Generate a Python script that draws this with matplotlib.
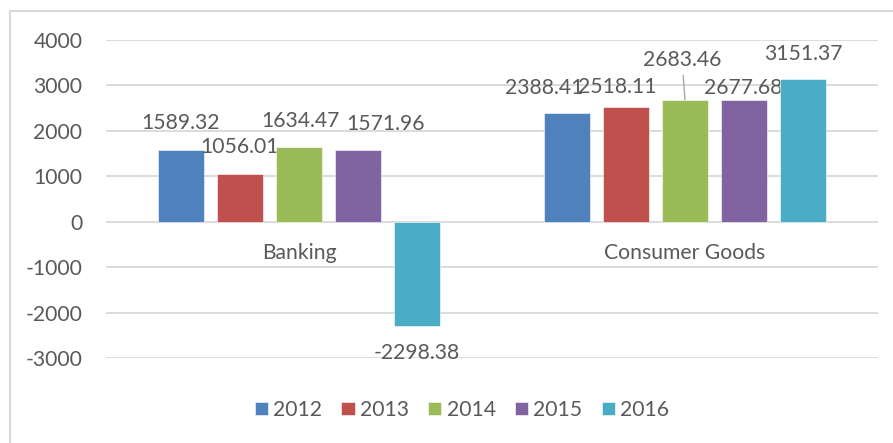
import numpy as np
import matplotlib.pyplot as plt
from matplotlib.lines import Line2D

# data
categories = ['Banking', 'Consumer Goods']
years = ['2012', '2013', '2014', '2015', '2016']
values = {
    '2012': [1589.32, 2388.41],
    '2013': [1056.01, 2518.11],
    '2014': [1634.47, 2683.46],
    '2015': [1571.96, 2677.68],
    '2016': [-2298.38, 3151.37],
}
colors = ['#4F81BD', '#C0504D', '#9BBB59', '#8064A2', '#4BACC6']

# label offsets in pixels (dx, dy), Excel-style manual placement
label_off = {
    '2012': [(0, 27), (-23, 25)],
    '2013': [(0, 27), (-9, 20)],
    '2014': [(1, 26), (-3, 40)],
    '2015': [(27, 26), (-1, 12)],
    '2016': [(0, -27), (0, 25)],
}

plt.rcParams['font.family'] = ['Lato', 'DejaVu Sans']
plt.rcParams['axes.unicode_minus'] = False
txt = '#595959'
fs = 15.2

fig = plt.figure(figsize=(8.93, 4.43), dpi=100)
ax = fig.add_axes([106/893, 1-358/443, (878-106)/893, (358-40)/443])

x = np.arange(len(categories))
step = 0.153
width = 0.119
for k, yr in enumerate(years):
    xs = x + (k-2)*step
    ax.bar(xs, values[yr], width, color=colors[k], edgecolor='white', linewidth=0.4, label=yr, zorder=3)
    for i, v in enumerate(values[yr]):
        dx, dy = label_off[yr][i]
        if yr == '2014' and i == 1:
            ax.annotate(f'{v:.2f}', (xs[i], v), xytext=(dx, dy), textcoords='offset pixels',
                        ha='center', va='center', fontsize=fs, color=txt,
                        arrowprops=dict(arrowstyle='-', color='#A6A6A6', lw=1, shrinkA=2, shrinkB=0))
        else:
            ax.annotate(f'{v:.2f}', (xs[i], v), xytext=(dx, dy), textcoords='offset pixels',
                        ha='center', va='center', fontsize=fs, color=txt)

# category labels next to the zero line
for i, c in enumerate(categories):
    ax.annotate(c, (x[i], 0), xytext=(0, -31), textcoords='offset pixels',
                ha='center', va='center', fontsize=fs, color=txt)

ax.set_xlim(-0.5, 1.5)
ax.set_ylim(-3000, 4000)
ax.set_yticks(np.arange(-3000, 4001, 1000))
ax.set_xticks([])
ax.tick_params(axis='y', length=0, pad=17, labelsize=fs, labelcolor=txt)
ax.grid(axis='y', color='#D9D9D9', linewidth=1.3, zorder=0)
ax.set_axisbelow(True)
for s in ax.spines.values():
    s.set_visible(False)

fig.legend(loc='center', bbox_to_anchor=(462/893, 1-410/443), ncol=5, frameon=False,
           fontsize=fs, labelcolor=txt, handlelength=0.62, handleheight=0.62,
           handletextpad=0.25, columnspacing=0.92)

# chart border (top and left only, the rest is cropped)
fig.add_artist(Line2D([10/893, 1], [1-11/443, 1-11/443], color='#D9D9D9', lw=1.5))
fig.add_artist(Line2D([10/893, 10/893], [0, 1-11/443], color='#D9D9D9', lw=1.5))

fig.savefig('out.png', dpi=100)
